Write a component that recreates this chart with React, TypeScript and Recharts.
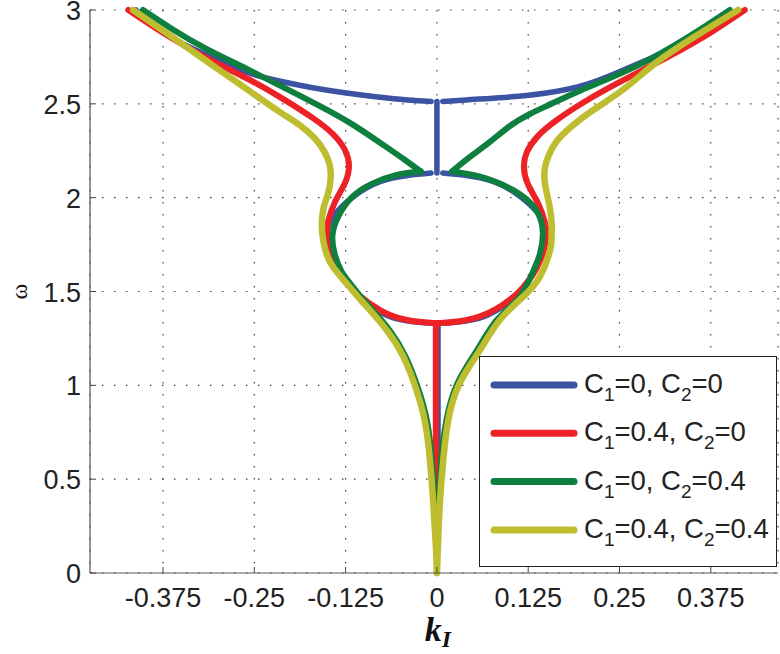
import React from "react";
import { LineChart, Line, XAxis, YAxis, CartesianGrid, Legend } from "recharts";

type Pt = [number, number];

// k_I (x) vs omega (y)

// C1=0, C2=0
const blueArmLeft: Pt[] = [
  [-0.412, 3.0], [-0.372, 2.872], [-0.322, 2.772], [-0.265, 2.675], [-0.222, 2.627],
  [-0.156, 2.576], [-0.087, 2.539], [-0.04, 2.521], [-0.008, 2.513],
];
const blueArmRight: Pt[] = [
  [0.008, 2.513], [0.04, 2.521], [0.085, 2.532], [0.15, 2.558], [0.209, 2.609],
  [0.264, 2.695], [0.315, 2.78], [0.365, 2.875], [0.412, 3.0],
];
const blueStem: Pt[] = [[0, 2.513], [0, 2.131]];
const blueLoop: Pt[] = [
  [-0.008, 2.131], [-0.04, 2.118], [-0.078, 2.085], [-0.1145, 2.005], [-0.142, 1.899],
  [-0.15, 1.81], [-0.145, 1.72], [-0.134, 1.615], [-0.119, 1.526], [-0.096, 1.437],
  [-0.064, 1.366], [-0.032, 1.339], [0, 1.331], [0.032, 1.339], [0.064, 1.366],
  [0.096, 1.437], [0.119, 1.526], [0.134, 1.615], [0.145, 1.72], [0.15, 1.81],
  [0.142, 1.899], [0.1145, 2.005], [0.078, 2.085], [0.04, 2.118], [0.008, 2.131],
];
const blueTail: Pt[] = [[0.0015, 1.331], [0.0015, 0.3]];

// C1=0.4, C2=0
const redLeft: Pt[] = [
  [-0.4225, 3.0], [-0.3723, 2.872], [-0.3175, 2.749], [-0.2559, 2.627], [-0.208, 2.52],
  [-0.1697, 2.424], [-0.1423, 2.339], [-0.1259, 2.254], [-0.1204, 2.169], [-0.1259, 2.078],
  [-0.1396, 1.977], [-0.1492, 1.87], [-0.15, 1.8], [-0.145, 1.715], [-0.135, 1.62],
  [-0.124, 1.55], [-0.11, 1.49], [-0.078, 1.401], [-0.041, 1.348], [0, 1.331],
];
const redRight: Pt[] = [
  [0, 1.331], [0.041, 1.348], [0.08, 1.405], [0.11, 1.49], [0.124, 1.55],
  [0.136, 1.62], [0.146, 1.715], [0.15, 1.8], [0.1478, 1.87], [0.1382, 1.972],
  [0.1245, 2.073], [0.1191, 2.163], [0.1232, 2.243], [0.1382, 2.328], [0.1642, 2.414],
  [0.2039, 2.515], [0.2532, 2.622], [0.3134, 2.744], [0.3695, 2.867], [0.4215, 3.0],
];
const redStem: Pt[] = [[-0.0015, 1.331], [-0.0015, 0.18]];

// C1=0, C2=0.4
const greenArmLeft: Pt[] = [
  [-0.4024, 3.0], [-0.3627, 2.899], [-0.3175, 2.797], [-0.2628, 2.691], [-0.208, 2.584],
  [-0.1601, 2.488], [-0.1163, 2.392], [-0.0753, 2.286], [-0.0438, 2.201], [-0.0219, 2.139],
];
const greenLowLeft: Pt[] = [
  [-0.0219, 2.139], [-0.055, 2.121], [-0.09, 2.072], [-0.117, 2.0], [-0.135, 1.9],
  [-0.143, 1.8], [-0.14, 1.7], [-0.131, 1.61], [-0.119, 1.544], [-0.106, 1.48],
  [-0.092, 1.419], [-0.065, 1.295], [-0.043, 1.153], [-0.025, 0.975], [-0.013, 0.798],
  [-0.007, 0.602], [-0.003, 0.371], [-0.001, 0.2],
];
const greenArmRight: Pt[] = [
  [0.0205, 2.139], [0.0452, 2.217], [0.0725, 2.297], [0.0999, 2.382], [0.1273, 2.446],
  [0.1588, 2.504], [0.1984, 2.574], [0.2737, 2.702], [0.3462, 2.861], [0.401, 3.0],
];
const greenLowRight: Pt[] = [
  [0.0205, 2.139], [0.059, 2.112], [0.104, 2.041], [0.136, 1.934], [0.145, 1.81],
  [0.141, 1.7], [0.132, 1.61], [0.113, 1.472], [0.082, 1.348], [0.055, 1.188],
  [0.028, 1.01], [0.013, 0.815], [0.006, 0.602], [0.003, 0.371], [0.001, 0.2],
];

// C1=0.4, C2=0.4
const yellowLeft: Pt[] = [
  [-0.416, 3.0], [-0.3654, 2.864], [-0.3107, 2.715], [-0.2559, 2.566], [-0.2149, 2.456],
  [-0.1875, 2.385], [-0.167, 2.315], [-0.1547, 2.249], [-0.1471, 2.179], [-0.1455, 2.105],
  [-0.149, 2.023], [-0.156, 1.93], [-0.157, 1.81], [-0.152, 1.71], [-0.142, 1.63],
  [-0.124, 1.544], [-0.11, 1.48], [-0.096, 1.419], [-0.069, 1.295], [-0.046, 1.153],
  [-0.028, 0.975], [-0.016, 0.798], [-0.0096, 0.602], [-0.005, 0.371], [-0.0014, 0.14],
  [0, 0],
];
const yellowRight: Pt[] = [
  [0, 0], [0.0014, 0.14], [0.004, 0.371], [0.0087, 0.602], [0.0155, 0.815],
  [0.031, 1.01], [0.059, 1.188], [0.086, 1.348], [0.118, 1.472], [0.141, 1.579],
  [0.155, 1.721], [0.157, 1.8], [0.157, 1.87], [0.1533, 1.972], [0.1478, 2.078],
  [0.1478, 2.158], [0.1533, 2.227], [0.1642, 2.302], [0.1834, 2.377], [0.2121, 2.462],
  [0.2559, 2.579], [0.2994, 2.717], [0.3543, 2.861], [0.4124, 3.0],
];

const c1Values = ["0", "0.4", "0", "0.4"];
const c2Values = ["0", "0", "0.4", "0.4"];
const colors = ["#3c52a3", "#ec2227", "#0e7f3e", "#bebd30"];
const widths = [5.5, 6, 6, 6.5];

const kTicks = [-0.375, -0.25, -0.125, 0, 0.125, 0.25, 0.375];
const wTicks = [0, 0.5, 1, 1.5, 2, 2.5, 3];

const SANS = '"Liberation Sans", Arial, Helvetica, sans-serif';
const SERIF = '"Liberation Serif", "Times New Roman", serif';

const toRows = (pts: Pt[]) => pts.map(([k, w]) => ({ k, w }));

const branches: Pt[][][] = [
  [blueArmLeft, blueArmRight, blueStem, blueLoop, blueTail],
  [redLeft, redRight, redStem],
  [greenArmLeft, greenLowLeft, greenArmRight, greenLowRight],
  [yellowLeft, yellowRight],
];

const KTick = (props: any) => {
  const { x, y, payload } = props;
  return (
    <g>
      <line x1={x} x2={x} y1={y} y2={y - 6} stroke="#444" />
      <text x={x} y={y + 34} textAnchor="middle" fontSize={27} fontFamily={SANS} fill="#222">
        {String(payload.value)}
      </text>
    </g>
  );
};

const WTick = (props: any) => {
  const { x, y, payload } = props;
  return (
    <g>
      <line x1={x} x2={x + 6} y1={y} y2={y} stroke="#444" />
      <text x={x - 9} y={y + 10} textAnchor="end" fontSize={27} fontFamily={SANS} fill="#222">
        {String(payload.value)}
      </text>
    </g>
  );
};

const KLabel = (props: any) => {
  const { viewBox } = props;
  const cx = viewBox.x + viewBox.width / 2 + 4;
  return (
    <text x={cx} y={viewBox.y + 68} textAnchor="middle" fontFamily={SERIF} fontStyle="italic"
      fontWeight="bold" fontSize={34} fill="#111">
      k<tspan fontSize={24} dy={6}>I</tspan>
    </text>
  );
};

const WLabel = (props: any) => {
  const { viewBox } = props;
  const cx = 19;
  const cy = viewBox.y + viewBox.height / 2;
  return (
    <text x={cx} y={cy} transform={`rotate(-90 ${cx} ${cy})`} textAnchor="middle"
      dominantBaseline="central" fontFamily={SERIF} fontSize={24} fill="#111">
      ω
    </text>
  );
};

const LegendBox = () => (
  <div style={{ width: 298, height: 211, boxSizing: "border-box", border: "1.5px solid #222", background: "#fff" }}>
    <svg width={295} height={208} style={{ display: "block" }}>
      {colors.map((c, i) => {
        const y = 28 + i * 48.3;
        return (
          <g key={i}>
            <line x1={14} x2={94} y1={y} y2={y} stroke={c} strokeWidth={7} strokeLinecap="round" />
            <text x={104} y={y + 8} fontSize={27.5} fontFamily={SANS} fill="#222">
              C<tspan fontSize={19} dy={8}>1</tspan>
              <tspan dy={-8}>={c1Values[i]}, C</tspan>
              <tspan fontSize={19} dy={8}>2</tspan>
              <tspan dy={-8}>={c2Values[i]}</tspan>
            </text>
          </g>
        );
      })}
    </svg>
  </div>
);

export default function App() {
  return (
    <div style={{ position: "absolute", left: 0, top: 0, background: "#fff" }}>
      <LineChart width={780} height={654} margin={{ top: 10, right: 2, bottom: 0, left: 0 }}>
        <CartesianGrid strokeDasharray="1.5 10.5" stroke="#444" strokeWidth={1.2} />
        <XAxis
          type="number"
          dataKey="k"
          domain={[-0.475, 0.467]}
          ticks={kTicks}
          interval={0}
          height={81}
          tickSize={0}
          tickMargin={0}
          tickLine={false}
          tick={<KTick />}
          axisLine={{ stroke: "#555", strokeWidth: 1.2 }}
          label={(p: any) => <KLabel {...p} />}
        />
        <YAxis
          type="number"
          dataKey="w"
          domain={[0, 3]}
          ticks={wTicks}
          interval={0}
          width={90}
          tickSize={0}
          tickMargin={0}
          tickLine={false}
          tick={<WTick />}
          axisLine={{ stroke: "#555", strokeWidth: 1.2 }}
          label={(p: any) => <WLabel {...p} />}
        />
        {branches.map((parts, s) =>
          parts.map((pts, j) => (
            <Line
              key={`${s}-${j}`}
              data={toRows(pts)}
              dataKey="w"
              type="natural"
              stroke={colors[s]}
              strokeWidth={widths[s]}
              strokeLinecap="round"
              strokeLinejoin="round"
              dot={false}
              activeDot={false}
              legendType="none"
              isAnimationActive={false}
            />
          ))
        )}
        <Legend
          layout="vertical"
          align="center"
          verticalAlign="middle"
          content={() => <LegendBox />}
          wrapperStyle={{ left: 479, top: 356, width: 298, height: 211 }}
        />
      </LineChart>
    </div>
  );
}
